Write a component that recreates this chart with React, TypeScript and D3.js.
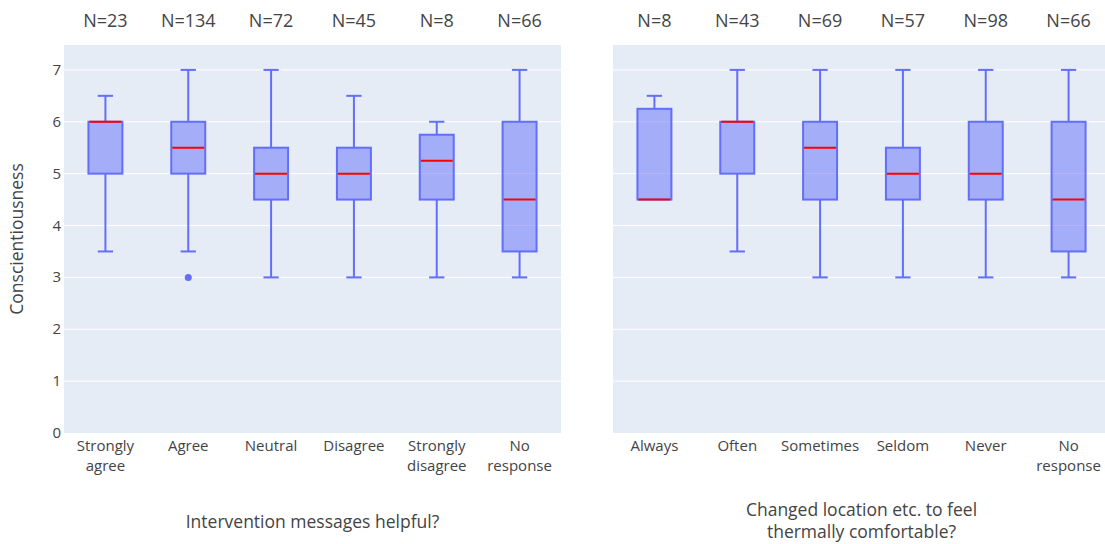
import * as d3 from 'd3';
import * as React from 'react';

interface BoxStat {
    label: string;
    n: number;
    low: number;
    q1: number;
    med: number;
    q3: number;
    high: number;
    outliers: number[];
}

// left panel: "Intervention messages helpful?"
const leftLabels = ['Strongly\nagree', 'Agree', 'Neutral', 'Disagree', 'Strongly\ndisagree', 'No\nresponse'];
const leftN = [23, 134, 72, 45, 8, 66];
const leftLow = [3.5, 3.5, 3, 3, 3, 3];
const leftQ1 = [5, 5, 4.5, 4.5, 4.5, 3.5];
const leftMed = [6, 5.5, 5, 5, 5.25, 4.5];
const leftQ3 = [6, 6, 5.5, 5.5, 5.75, 6];
const leftHigh = [6.5, 7, 7, 6.5, 6, 7];
const leftOutliers = [[], [3], [], [], [], []];

// right panel: "Changed location etc. to feel thermally comfortable?"
const rightLabels = ['Always', 'Often', 'Sometimes', 'Seldom', 'Never', 'No\nresponse'];
const rightN = [8, 43, 69, 57, 98, 66];
const rightLow = [4.5, 3.5, 3, 3, 3, 3];
const rightQ1 = [4.5, 5, 4.5, 4.5, 4.5, 3.5];
const rightMed = [4.5, 6, 5.5, 5, 5, 4.5];
const rightQ3 = [6.25, 6, 6, 5.5, 6, 6];
const rightHigh = [6.5, 7, 7, 7, 7, 7];
const rightOutliers = [[], [], [], [], [], []];

const yTicks = [0, 1, 2, 3, 4, 5, 6, 7];

const build = (labels: string[], n: number[], low: number[], q1: number[], med: number[], q3: number[], high: number[], out: number[][]): BoxStat[] =>
    labels.map((label, i) => ({label, n: n[i], low: low[i], q1: q1[i], med: med[i], q3: q3[i], high: high[i], outliers: out[i]}));

const W = 1105;
const H = 544;
const top = 45;
const bottom = 433;
const font = '"Open Sans", "Noto Sans", sans-serif';
const textColor = '#444';
const boxColor = '#636efa';

const y = d3.scaleLinear().domain([0, 7.48]).range([bottom, top]);

function Panel(props: {data: BoxStat[], x0: number, x1: number, title: string[]}) {
    const x = d3.scaleBand<string>()
        .domain(props.data.map((d) => d.label))
        .range([props.x0, props.x1]);
    const bw = x.bandwidth() * 0.41;
    const cap = bw * 0.45;
    const mid = (props.x0 + props.x1) / 2;
    return (
        <g>
            <rect x={props.x0} y={top} width={props.x1 - props.x0} height={bottom - top} fill='#e5ecf6' />
            {yTicks.filter((t) => t > 0).map((t) => (
                <line key={t} x1={props.x0} x2={props.x1} y1={y(t)} y2={y(t)} stroke='#fff' strokeWidth={1} />
            ))}
            {props.data.map((d) => {
                const cx = x(d.label)! + x.bandwidth() / 2;
                return (
                    <g key={d.label}>
                        <text x={cx} y={27} textAnchor='middle' fontSize={18} fill={textColor}>N={d.n}</text>
                        {d.high > d.q3 && (
                            <g stroke={boxColor} strokeWidth={2}>
                                <line x1={cx} x2={cx} y1={y(d.q3)} y2={y(d.high)} />
                                <line x1={cx - cap / 2} x2={cx + cap / 2} y1={y(d.high)} y2={y(d.high)} />
                            </g>
                        )}
                        {d.low < d.q1 && (
                            <g stroke={boxColor} strokeWidth={2}>
                                <line x1={cx} x2={cx} y1={y(d.q1)} y2={y(d.low)} />
                                <line x1={cx - cap / 2} x2={cx + cap / 2} y1={y(d.low)} y2={y(d.low)} />
                            </g>
                        )}
                        <rect x={cx - bw / 2} y={y(d.q3)} width={bw} height={y(d.q1) - y(d.q3)}
                            fill='rgba(99,110,250,0.5)' stroke={boxColor} strokeWidth={2} />
                        <line x1={cx - bw / 2 + 1} x2={cx + bw / 2 - 1} y1={y(d.med)} y2={y(d.med)} stroke='#f00' strokeWidth={2} />
                        {d.outliers.map((o, j) => (
                            <circle key={j} cx={cx} cy={y(o)} r={3.5} fill={boxColor} />
                        ))}
                        {d.label.split('\n').map((line, j) => (
                            <text key={j} x={cx} y={451 + j * 20} textAnchor='middle' fontSize={15} fill={textColor}>{line}</text>
                        ))}
                    </g>
                );
            })}
            {props.title.map((line, j) => (
                <text key={j} x={mid} y={(props.title.length > 1 ? 516 : 528) + j * 22} textAnchor='middle' fontSize={17.5} fill={textColor}>{line}</text>
            ))}
        </g>
    );
}

export default function App() {
    const left = build(leftLabels, leftN, leftLow, leftQ1, leftMed, leftQ3, leftHigh, leftOutliers);
    const right = build(rightLabels, rightN, rightLow, rightQ1, rightMed, rightQ3, rightHigh, rightOutliers);
    return (
        <svg width={W} height={H} style={{position: 'absolute', left: 0, top: 0, fontFamily: font}}>
            <rect width={W} height={H} fill='#fff' />
            <Panel data={left} x0={64} x1={561} title={['Intervention messages helpful?']} />
            <Panel data={right} x0={613} x1={1110} title={['Changed location etc. to feel', 'thermally comfortable?']} />
            {yTicks.map((t) => (
                <text key={t} x={61} y={y(t) + 5} textAnchor='end' fontSize={15} fill={textColor}>{t}</text>
            ))}
            <text transform={`translate(23,${(top + bottom) / 2}) rotate(-90)`} textAnchor='middle' fontSize={17.5} fill={textColor}>Conscientiousness</text>
        </svg>
    );
}
